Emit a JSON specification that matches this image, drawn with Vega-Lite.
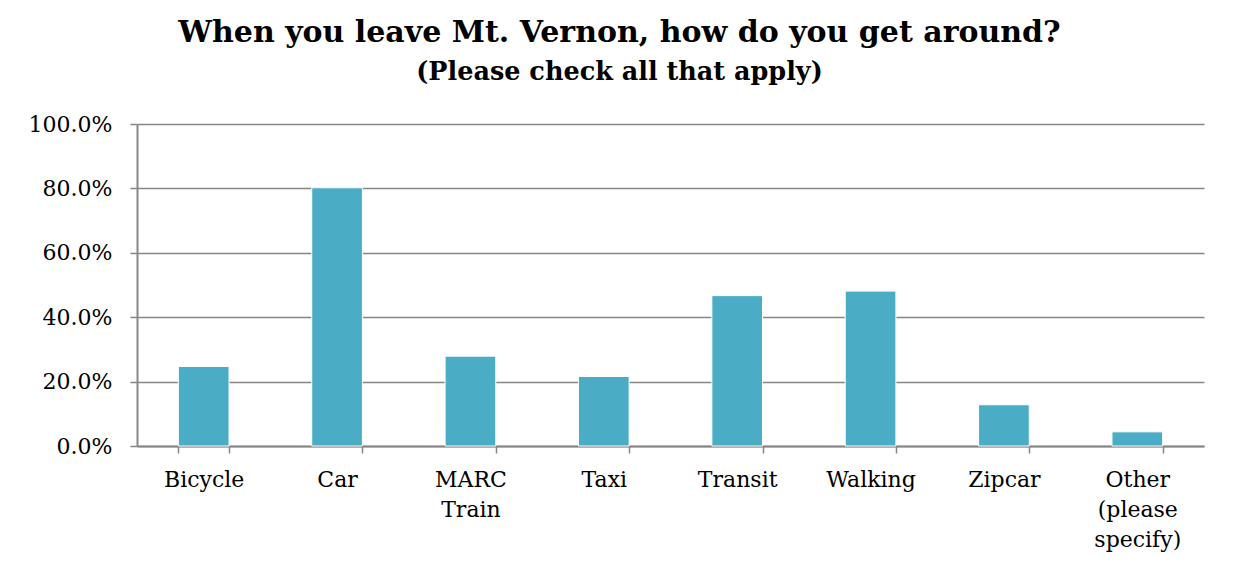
{
  "$schema": "https://vega.github.io/schema/vega-lite/v6.json",
  "autosize": {"type": "none"},
  "width": 1067,
  "height": 322,
  "padding": {"left": 137, "top": 124, "right": 31, "bottom": 118},
  "background": "white",
  "title": {
    "text": "When you leave Mt. Vernon, how do you get around?",
    "subtitle": "(Please check all that apply)",
    "anchor": "middle",
    "frame": "group",
    "dx": -51,
    "offset": 28,
    "font": "DejaVu Serif",
    "fontSize": 30,
    "fontWeight": "bold",
    "color": "#000000",
    "subtitleFont": "DejaVu Serif",
    "subtitleFontSize": 25.5,
    "subtitleFontWeight": "bold",
    "subtitleColor": "#000000",
    "subtitlePadding": 12
  },
  "data": {
    "values": [
      {"mode": "Bicycle", "share": 0.247},
      {"mode": "Car", "share": 0.802},
      {"mode": "MARC Train", "share": 0.279},
      {"mode": "Taxi", "share": 0.216},
      {"mode": "Transit", "share": 0.467},
      {"mode": "Walking", "share": 0.481},
      {"mode": "Zipcar", "share": 0.128},
      {"mode": "Other (please specify)", "share": 0.044}
    ]
  },
  "mark": {"type": "bar", "color": "#4BACC6", "stroke": "#ffffff", "strokeWidth": 1},
  "encoding": {
    "x": {
      "field": "mode",
      "type": "nominal",
      "sort": null,
      "title": null,
      "scale": {"paddingInner": 0.62, "paddingOuter": 0.31},
      "axis": {
        "tickBand": "extent",
        "labelAngle": 0,
        "labelFont": "DejaVu Serif",
        "labelFontSize": 22,
        "labelColor": "#000000",
        "labelLineHeight": 30,
        "labelPadding": 16,
        "labelBaseline": "top",
        "labelExpr": "datum.value == 'MARC Train' ? ['MARC', 'Train'] : datum.value == 'Other (please specify)' ? ['Other', '(please', 'specify)'] : datum.value",
        "tickSize": 7,
        "tickColor": "#868686",
        "tickWidth": 1.5,
        "domainColor": "#868686",
        "domainWidth": 2,
        "grid": false
      }
    },
    "y": {
      "field": "share",
      "type": "quantitative",
      "title": null,
      "scale": {"domain": [0, 1], "nice": false},
      "axis": {
        "values": [0, 0.2, 0.4, 0.6, 0.8, 1],
        "format": ".1%",
        "labelFont": "DejaVu Serif",
        "labelFontSize": 22,
        "labelColor": "#000000",
        "labelPadding": 18,
        "tickSize": 7,
        "tickColor": "#868686",
        "tickWidth": 1.5,
        "domainColor": "#868686",
        "domainWidth": 2,
        "grid": true,
        "gridColor": "#868686",
        "gridWidth": 1.5
      }
    }
  },
  "config": {"view": {"stroke": null}}
}
